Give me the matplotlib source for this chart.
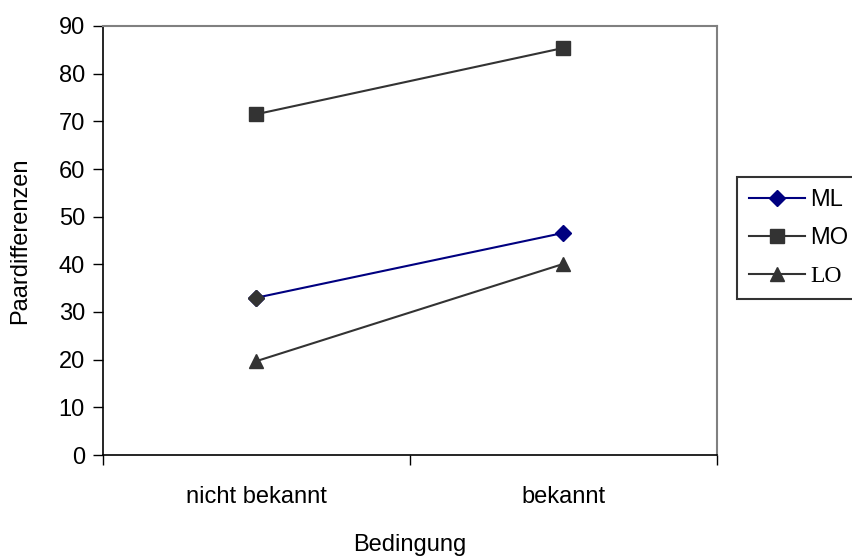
import matplotlib
matplotlib.use("Agg")
import matplotlib.pyplot as plt

plt.rcParams['font.family'] = ['Liberation Sans', 'DejaVu Sans']

# Mean pair differences per condition
conditions = ["nicht bekannt", "bekannt"]
ml = [33.0, 46.6]
mo = [71.5, 85.4]
lo = [19.7, 40.1]

fs = 17

fig = plt.figure(figsize=(8.53, 5.56), dpi=100)
ax = fig.add_axes([103 / 853, 1 - 455 / 556, 614 / 853, 429 / 556])

x = list(range(len(conditions)))
dark = '#333333'
navy = '#000080'

l_ml, = ax.plot(x, ml, color=navy, lw=1.5, marker='D', ms=8,
                mfc=navy, mec=navy, label='ML')
# first diamond is drawn dark grey
ax.plot(x[0], ml[0], marker='D', ms=8, color=dark, ls='none')
l_mo, = ax.plot(x, mo, color=dark, lw=1.5, marker='s', ms=10,
                mfc=dark, mec=dark, label='MO')
l_lo, = ax.plot(x, lo, color=dark, lw=1.5, marker='^', ms=10,
                mfc=dark, mec=dark, label='LO')

ax.set_xlim(-0.5, 1.5)
ax.set_ylim(0, 90)
ax.set_yticks(range(0, 91, 10))
ax.set_xticks([-0.5, 0.5, 1.5])
ax.set_xticklabels([])
ax.set_xticks(x, minor=True)
ax.set_xticklabels(conditions, minor=True)
ax.tick_params(axis='x', which='minor', length=0, pad=22, labelsize=fs)
ax.tick_params(axis='x', which='major', direction='out', length=7, width=1)
ax.tick_params(axis='y', direction='out', length=7, width=1, labelsize=fs, pad=6)

for side in ['top', 'right']:
    ax.spines[side].set_color('#808080')
    ax.spines[side].set_linewidth(1.5)
for side in ['left', 'bottom']:
    ax.spines[side].set_color('black')
    ax.spines[side].set_linewidth(1.2)

ax.set_ylabel('Paardifferenzen', fontsize=fs, labelpad=20)
fig.text(410 / 853, 1 - 545 / 556, 'Bedingung', fontsize=fs,
         ha='center', va='center')

leg = fig.legend(handles=[l_ml, l_mo, l_lo], loc='upper left',
                 bbox_to_anchor=(737 / 853, 1 - 177 / 556),
                 frameon=True, fancybox=False, fontsize=fs,
                 handlelength=2.4, handletextpad=0.2, borderpad=0.5,
                 labelspacing=0.7, borderaxespad=0)
leg.get_frame().set_edgecolor('black')
leg.get_frame().set_linewidth(1.5)
leg.get_texts()[2].set_fontfamily(['Liberation Serif', 'DejaVu Serif'])

fig.savefig('out.png', dpi=100)
